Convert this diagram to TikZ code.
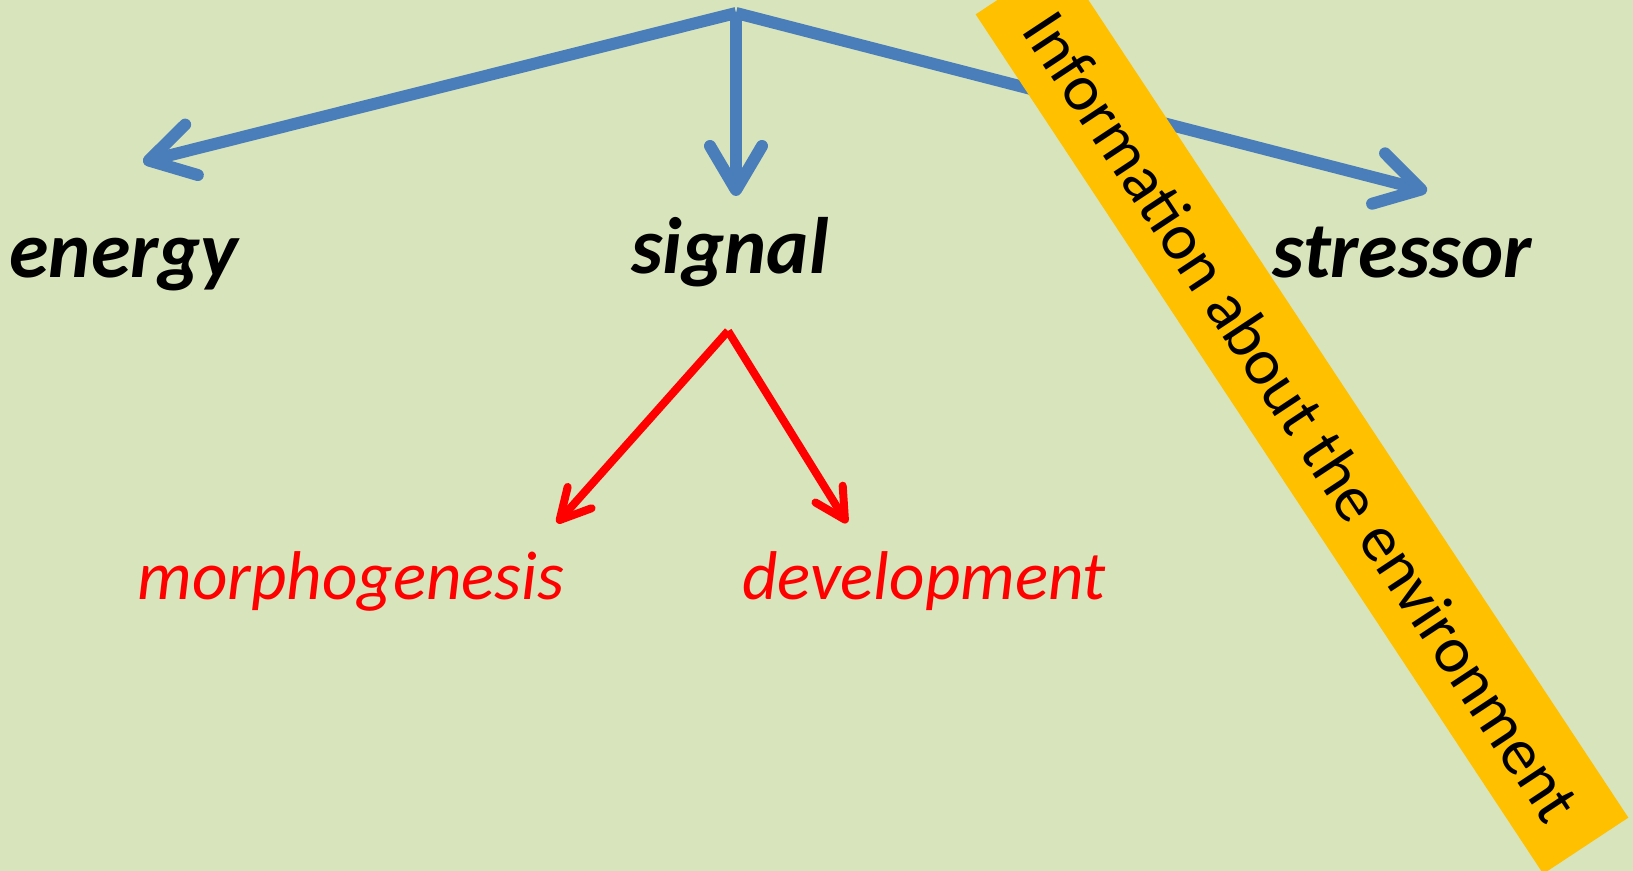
\documentclass[tikz,border=0pt]{standalone}
\usepackage{fontspec}
\setmainfont{Carlito}
\usetikzlibrary{arrows.meta}
\definecolor{bgolive}{HTML}{D8E4BC}
\definecolor{arrowblue}{HTML}{4A7EBB}
\definecolor{bannergold}{HTML}{FFC000}
\tikzset{
  bigword/.style={font=\fontsize{40}{48}\selectfont\bfseries\itshape, anchor=base, inner sep=0pt},
  redword/.style={font=\fontsize{34.5}{41}\selectfont\itshape, text=red, anchor=base, inner sep=0pt},
  bluearrow/.style={draw=arrowblue, line width=6pt, -{Straight Barb[round,length=22pt,width=26pt]}},
  redarrow/.style={draw=red, line width=4pt, -{Straight Barb[round,length=15pt,width=16pt]}},
  banner/.style={fill=bannergold, minimum width=515pt, minimum height=51pt, inner sep=0pt,
    font=\fontsize{33}{40}\selectfont},
}
\begin{document}
\begin{tikzpicture}[x=0.5pt,y=-0.5pt]
  \fill[bgolive] (0,0) rectangle (1633,871);
  \useasboundingbox (0,0) rectangle (1633,871);
  \clip (0,0) rectangle (1633,871);

  \coordinate (top) at (736,13);
  \coordinate (energytip) at (143,162);
  \coordinate (signaltip) at (736,196);
  \coordinate (stressortip) at (1427,191);
  \draw[bluearrow] (top) -- (energytip);
  \draw[bluearrow] (top) -- (signaltip);
  \draw[bluearrow] (top) -- (stressortip);

  \coordinate (fork) at (728,331);
  \coordinate (morphtip) at (557,523);
  \coordinate (devtip) at (847,523);
  \draw[redarrow] (fork) -- (morphtip);
  \draw[redarrow] (fork) -- (devtip);

  \node[banner, rotate=-56.56] (info) at (1302,416) {Information about the environment};

  \node[bigword] (energy) at (124,278) {energy};
  \node[bigword] (signal) at (730,274) {signal};
  \node[bigword] (stressor) at (1402,278) {stressor};

  \node[redword] (morph) at (351,599) {morphogenesis};
  \node[redword] (dev) at (924,599) {development};
\end{tikzpicture}
\end{document}
